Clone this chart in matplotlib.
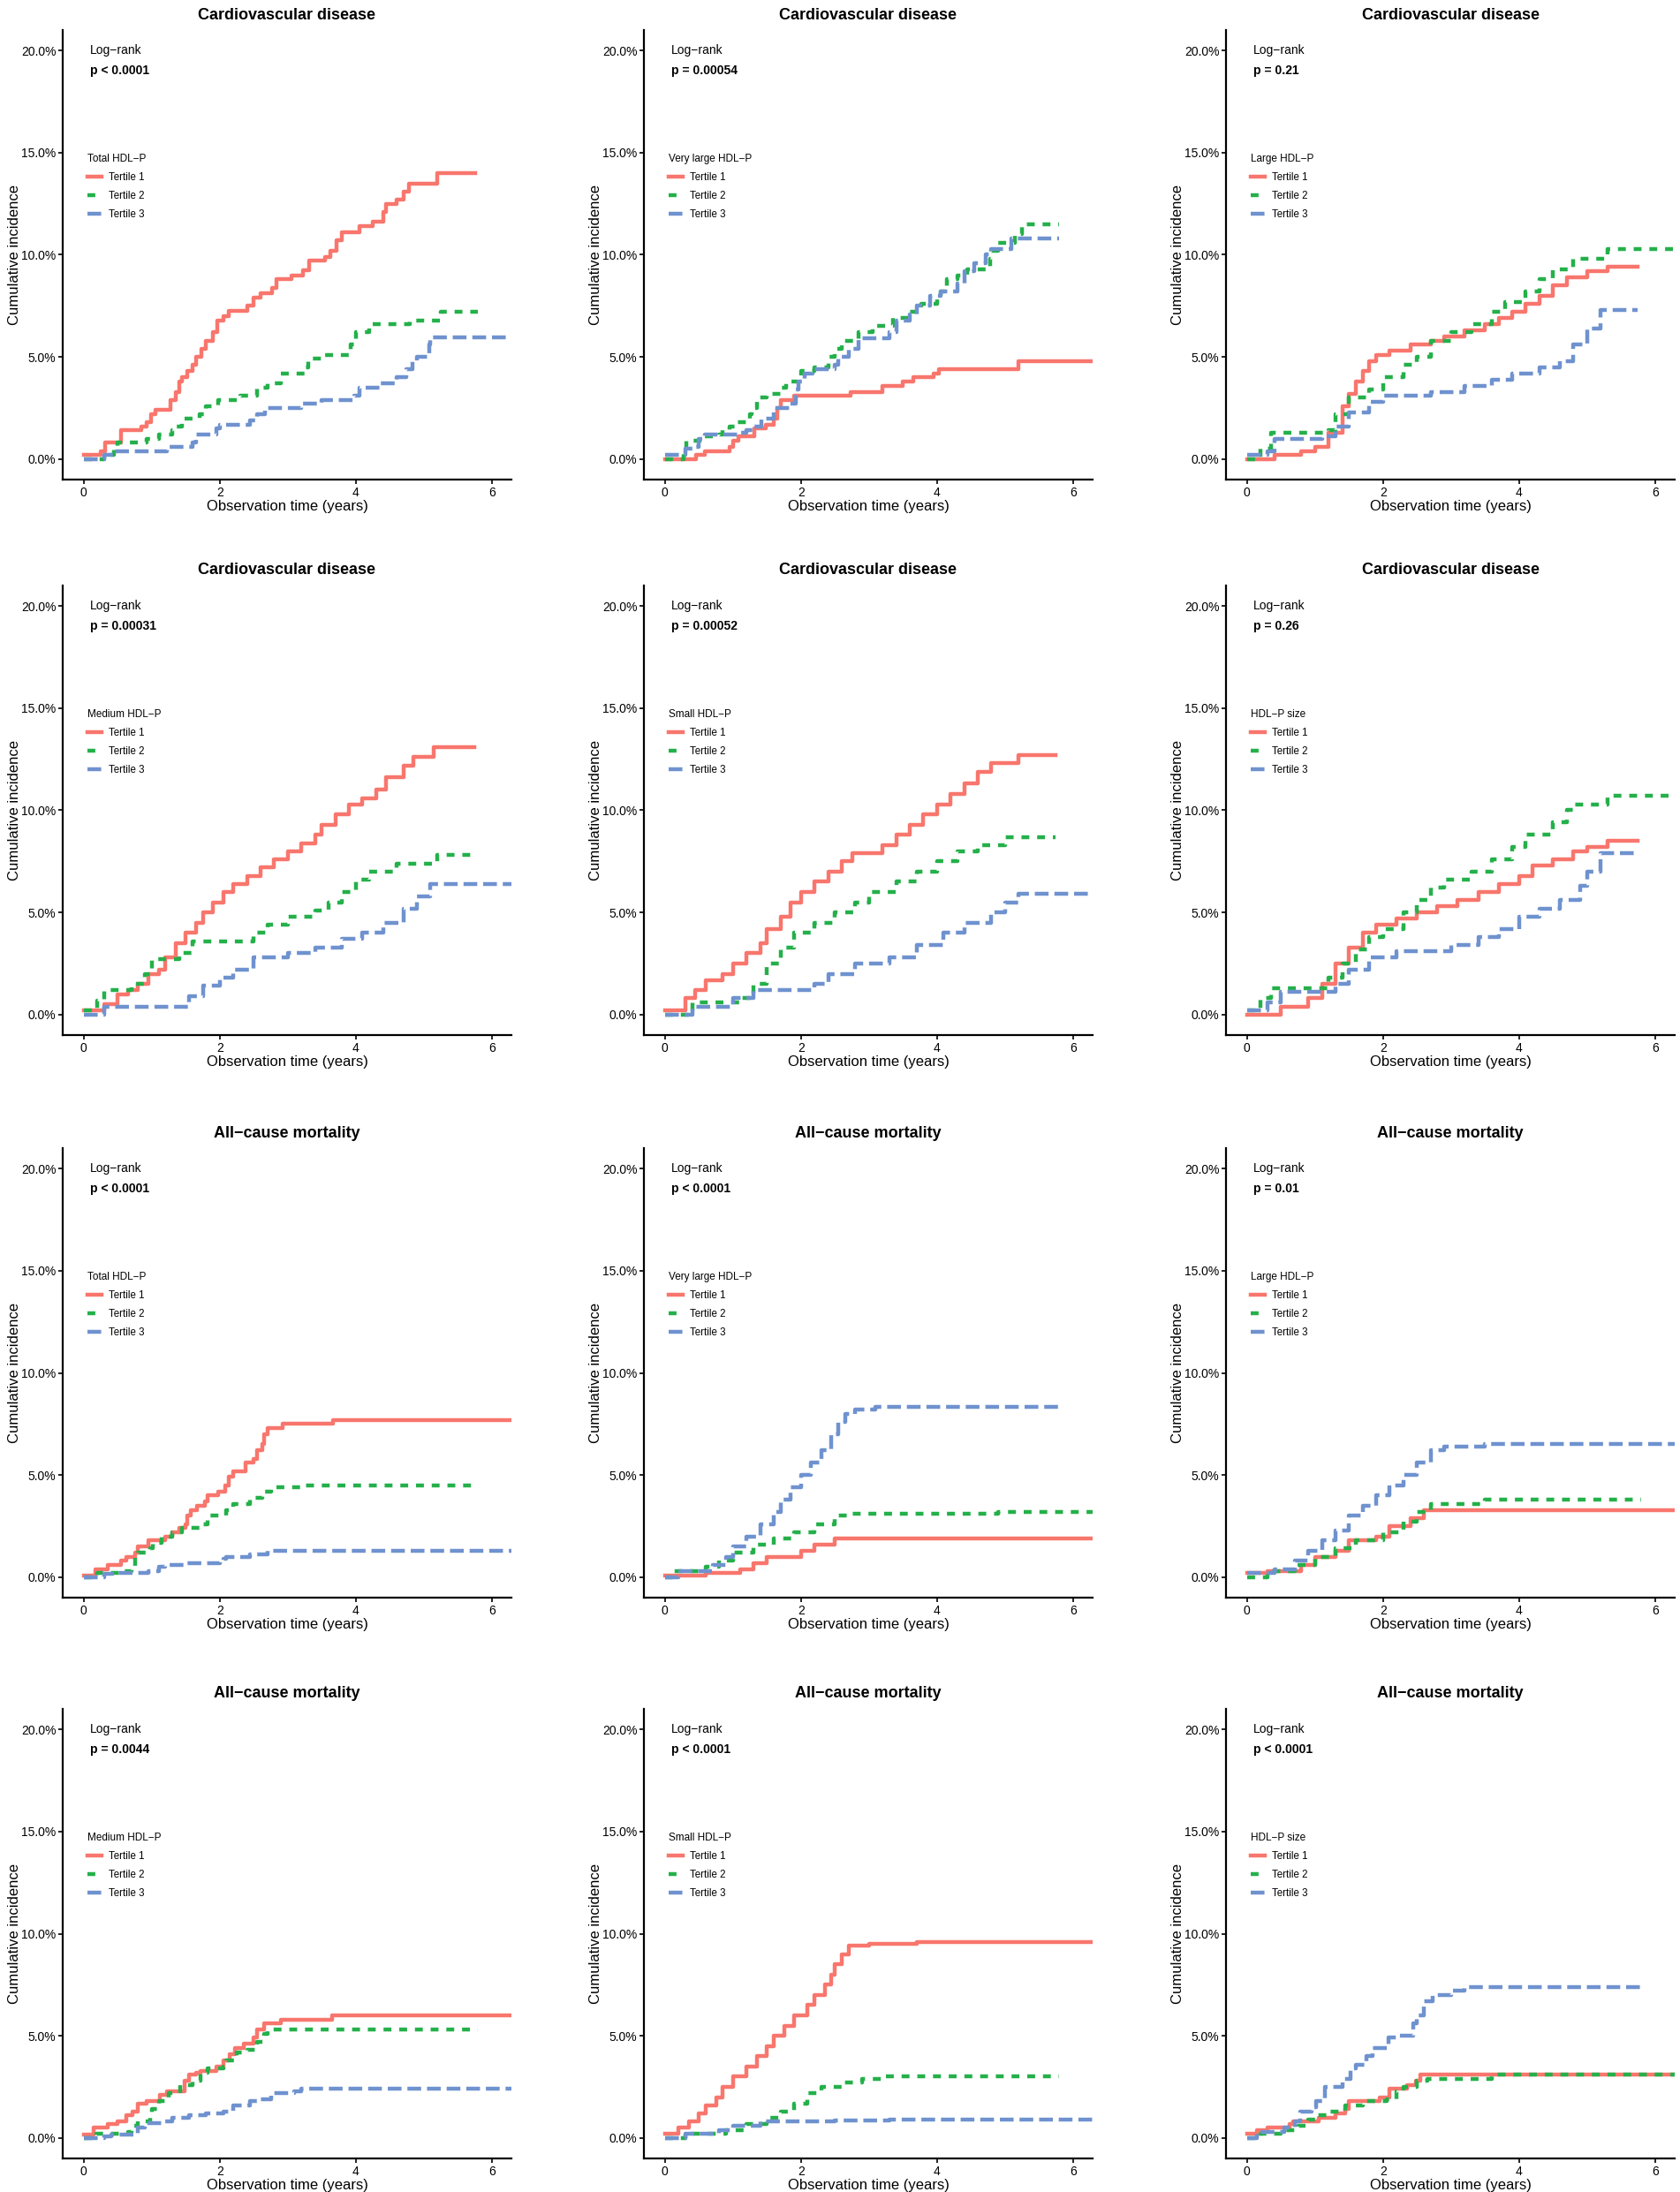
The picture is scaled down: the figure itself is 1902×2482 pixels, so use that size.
import matplotlib
matplotlib.use("Agg")
import matplotlib.pyplot as plt

plt.rcParams['font.family'] = ['Liberation Sans', 'DejaVu Sans']

M = "\u2212"  # R draws the hyphen as a minus sign

# ---- cumulative incidence step curves (time in years, incidence in %) ----
# Cardiovascular disease, Total HDL-P
cvd_total_1_x = [0, 0.25, 0.31, 0.55, 0.84, 0.92, 0.99, 1.05, 1.28, 1.35, 1.40, 1.45, 1.52, 1.60, 1.65, 1.73, 1.80, 1.90, 1.97, 2.05, 2.13, 2.40, 2.50, 2.60, 2.77, 2.83, 3.05, 3.23, 3.32, 3.55, 3.63, 3.72, 3.80, 4.05, 4.25, 4.40, 4.45, 4.60, 4.70, 4.78, 5.20, 5.76]
cvd_total_1_y = [0.2, 0.4, 0.8, 1.4, 1.6, 1.8, 2.2, 2.4, 2.9, 3.3, 3.8, 4.0, 4.3, 4.6, 5.0, 5.4, 5.8, 6.2, 6.8, 7.0, 7.25, 7.5, 7.9, 8.1, 8.4, 8.8, 9.0, 9.25, 9.7, 9.9, 10.2, 10.7, 11.1, 11.4, 11.6, 12.1, 12.5, 12.7, 13.1, 13.5, 14.0, 14.0]
cvd_total_2_x = [0, 0.30, 0.45, 0.50, 0.92, 1.10, 1.30, 1.32, 1.45, 1.70, 1.80, 1.98, 2.30, 2.55, 2.70, 2.90, 3.25, 3.30, 3.50, 3.93, 4.00, 4.20, 4.80, 5.25, 5.80]
cvd_total_2_y = [0, 0.2, 0.5, 0.8, 1.0, 1.2, 1.4, 1.6, 2.0, 2.2, 2.6, 2.9, 3.1, 3.5, 3.7, 4.2, 4.5, 4.9, 5.1, 5.6, 6.2, 6.6, 6.8, 7.2, 7.2]
cvd_total_3_x = [0, 0.30, 0.45, 1.22, 1.60, 1.65, 1.95, 2.00, 2.45, 2.55, 2.67, 3.20, 3.50, 3.98, 4.05, 4.35, 4.60, 4.75, 4.83, 4.90, 5.08, 5.10, 6.50]
cvd_total_3_y = [0, 0.2, 0.4, 0.6, 0.8, 1.2, 1.5, 1.7, 1.9, 2.2, 2.5, 2.7, 2.9, 3.1, 3.5, 3.7, 4.0, 4.4, 4.8, 5.0, 5.6, 5.95, 5.95]

# Cardiovascular disease, Very large HDL-P
cvd_vlarge_1_x = [0, 0.46, 0.58, 0.95, 1.00, 1.08, 1.32, 1.48, 1.60, 1.65, 1.70, 1.90, 2.73, 3.20, 3.50, 3.65, 3.95, 4.03, 5.20, 6.50]
cvd_vlarge_1_y = [0, 0.2, 0.4, 0.6, 0.9, 1.1, 1.5, 1.7, 2.0, 2.5, 2.9, 3.1, 3.3, 3.6, 3.8, 4.0, 4.2, 4.4, 4.8, 4.8]
cvd_vlarge_2_x = [0, 0.27, 0.32, 0.55, 0.80, 0.85, 0.95, 1.05, 1.25, 1.28, 1.35, 1.50, 1.70, 1.78, 1.95, 2.00, 2.20, 2.40, 2.50, 2.60, 2.85, 3.05, 3.35, 3.60, 3.77, 4.00, 4.05, 4.15, 4.30, 4.45, 4.78, 4.80, 4.90, 5.15, 5.25, 5.80]
cvd_vlarge_2_y = [0, 0.5, 0.9, 1.1, 1.2, 1.4, 1.6, 1.8, 2.2, 2.5, 3.0, 3.2, 3.5, 3.8, 3.9, 4.3, 4.5, 5.0, 5.4, 5.8, 6.2, 6.5, 6.9, 7.2, 7.6, 7.8, 8.2, 8.8, 9.0, 9.3, 9.8, 10.2, 10.6, 11.0, 11.5, 11.5]
cvd_vlarge_3_x = [0, 0.30, 0.40, 0.50, 0.58, 1.07, 1.20, 1.30, 1.42, 1.60, 1.85, 1.92, 1.97, 2.05, 2.17, 2.50, 2.55, 2.70, 2.85, 3.30, 3.40, 3.60, 3.70, 3.90, 4.05, 4.30, 4.40, 4.55, 4.72, 4.80, 5.10, 5.80]
cvd_vlarge_3_y = [0.2, 0.5, 0.6, 1.0, 1.2, 1.3, 1.4, 1.6, 2.0, 2.5, 2.7, 3.4, 3.8, 4.2, 4.4, 4.6, 5.0, 5.4, 5.9, 6.2, 6.8, 7.1, 7.5, 8.0, 8.2, 8.6, 9.2, 9.6, 10.0, 10.3, 10.8, 10.8]

# Cardiovascular disease, Large HDL-P
cvd_large_1_x = [0, 0.40, 0.80, 1.00, 1.20, 1.40, 1.50, 1.60, 1.70, 1.80, 1.90, 2.10, 2.40, 2.70, 2.90, 3.20, 3.50, 3.70, 3.90, 4.10, 4.30, 4.50, 4.70, 5.00, 5.30, 5.75]
cvd_large_1_y = [0, 0.2, 0.4, 0.6, 1.3, 2.6, 3.2, 3.8, 4.3, 4.8, 5.1, 5.3, 5.6, 5.8, 6.0, 6.3, 6.6, 6.9, 7.2, 7.6, 8.0, 8.5, 8.9, 9.2, 9.4, 9.4]
cvd_large_2_x = [0, 0.20, 0.35, 1.20, 1.30, 1.50, 1.80, 2.00, 2.30, 2.50, 2.70, 3.00, 3.30, 3.60, 3.80, 4.10, 4.30, 4.50, 4.80, 5.30, 6.50]
cvd_large_2_y = [0, 0.5, 1.3, 1.4, 2.2, 3.0, 3.4, 4.0, 4.6, 5.0, 5.8, 6.2, 6.6, 7.2, 7.7, 8.2, 8.8, 9.3, 9.8, 10.3, 10.3]
cvd_large_3_x = [0, 0.30, 0.40, 1.10, 1.30, 1.50, 1.80, 2.00, 2.70, 3.20, 3.60, 3.90, 4.30, 4.60, 4.80, 5.00, 5.20, 5.75]
cvd_large_3_y = [0.2, 0.4, 1.0, 1.1, 1.6, 2.3, 2.8, 3.1, 3.3, 3.6, 3.9, 4.2, 4.5, 4.8, 5.6, 6.4, 7.3, 7.3]

# Cardiovascular disease, Medium HDL-P
cvd_medium_1_x = [0, 0.30, 0.50, 0.65, 0.80, 0.95, 1.10, 1.20, 1.35, 1.50, 1.65, 1.75, 1.90, 2.05, 2.20, 2.40, 2.60, 2.80, 3.00, 3.20, 3.40, 3.50, 3.70, 3.90, 4.10, 4.30, 4.45, 4.70, 4.85, 5.15, 5.75]
cvd_medium_1_y = [0.2, 0.5, 1.0, 1.2, 1.5, 2.0, 2.2, 2.8, 3.5, 4.0, 4.5, 5.0, 5.5, 6.0, 6.4, 6.8, 7.2, 7.6, 8.0, 8.4, 8.8, 9.3, 9.8, 10.3, 10.6, 11.0, 11.6, 12.2, 12.6, 13.1, 13.1]
cvd_medium_2_x = [0, 0.20, 0.30, 0.70, 0.90, 1.00, 1.40, 1.60, 2.50, 2.70, 3.00, 3.40, 3.60, 3.80, 4.00, 4.20, 4.60, 5.20, 5.75]
cvd_medium_2_y = [0.2, 0.7, 1.2, 1.5, 2.0, 2.7, 3.0, 3.6, 4.0, 4.4, 4.8, 5.1, 5.5, 6.0, 6.6, 7.0, 7.4, 7.8, 7.8]
cvd_medium_3_x = [0, 0.30, 1.55, 1.75, 2.00, 2.20, 2.50, 3.00, 3.40, 3.80, 4.10, 4.40, 4.70, 4.90, 5.10, 6.50]
cvd_medium_3_y = [0, 0.4, 0.9, 1.4, 1.8, 2.2, 2.8, 3.0, 3.3, 3.7, 4.0, 4.5, 5.2, 5.8, 6.4, 6.4]

# Cardiovascular disease, Small HDL-P
cvd_small_1_x = [0, 0.30, 0.45, 0.60, 0.85, 1.00, 1.20, 1.40, 1.50, 1.70, 1.85, 2.00, 2.20, 2.40, 2.60, 2.75, 3.20, 3.40, 3.60, 3.80, 4.00, 4.20, 4.40, 4.60, 4.80, 5.20, 5.75]
cvd_small_1_y = [0.2, 0.8, 1.2, 1.7, 2.0, 2.5, 3.0, 3.5, 4.2, 4.8, 5.5, 6.0, 6.5, 7.0, 7.5, 7.9, 8.3, 8.8, 9.3, 9.8, 10.3, 10.8, 11.3, 11.9, 12.3, 12.7, 12.7]
cvd_small_2_x = [0, 0.40, 1.10, 1.30, 1.50, 1.70, 1.90, 2.20, 2.50, 2.80, 3.00, 3.40, 3.70, 4.00, 4.30, 4.60, 5.00, 5.75]
cvd_small_2_y = [0, 0.6, 0.8, 1.5, 2.5, 3.3, 4.0, 4.5, 5.0, 5.5, 6.0, 6.5, 7.0, 7.5, 8.0, 8.3, 8.7, 8.7]
cvd_small_3_x = [0, 0.40, 1.00, 1.30, 2.20, 2.40, 2.80, 3.30, 3.70, 4.10, 4.40, 4.80, 5.00, 5.20, 6.50]
cvd_small_3_y = [0, 0.4, 0.8, 1.2, 1.5, 2.0, 2.5, 2.8, 3.4, 4.0, 4.5, 5.0, 5.5, 5.9, 5.9]

# Cardiovascular disease, HDL-P size
cvd_size_1_x = [0, 0.50, 0.90, 1.10, 1.30, 1.50, 1.70, 1.90, 2.20, 2.50, 2.80, 3.10, 3.40, 3.70, 4.00, 4.20, 4.50, 4.80, 5.00, 5.30, 5.75]
cvd_size_1_y = [0, 0.4, 0.8, 1.5, 2.5, 3.3, 4.0, 4.4, 4.7, 5.0, 5.3, 5.6, 6.0, 6.4, 6.8, 7.3, 7.6, 8.0, 8.2, 8.5, 8.5]
cvd_size_2_x = [0, 0.20, 0.35, 1.20, 1.40, 1.60, 1.80, 2.00, 2.30, 2.50, 2.70, 2.90, 3.30, 3.60, 3.90, 4.10, 4.50, 4.70, 4.80, 5.30, 6.50]
cvd_size_2_y = [0.2, 0.8, 1.3, 1.8, 2.5, 3.2, 3.8, 4.2, 5.0, 5.6, 6.2, 6.6, 7.0, 7.6, 8.2, 8.8, 9.4, 10.0, 10.3, 10.7, 10.7]
cvd_size_3_x = [0, 0.30, 0.50, 1.30, 1.50, 1.80, 2.20, 3.00, 3.40, 3.70, 4.00, 4.30, 4.60, 4.90, 5.00, 5.20, 5.75]
cvd_size_3_y = [0.2, 0.6, 1.1, 1.5, 2.2, 2.8, 3.1, 3.4, 3.8, 4.2, 4.8, 5.2, 5.6, 6.3, 7.0, 7.9, 7.9]

# All-cause mortality, Total HDL-P
acm_total_1_x = [0, 0.17, 0.35, 0.55, 0.62, 0.75, 0.80, 0.95, 1.20, 1.30, 1.40, 1.50, 1.52, 1.58, 1.67, 1.78, 1.82, 1.98, 2.08, 2.13, 2.20, 2.38, 2.50, 2.55, 2.62, 2.65, 2.70, 2.93, 3.67, 6.50]
acm_total_1_y = [0.1, 0.4, 0.6, 0.8, 1.0, 1.2, 1.5, 1.8, 2.0, 2.2, 2.4, 2.6, 3.0, 3.3, 3.5, 3.7, 4.0, 4.2, 4.5, 4.9, 5.2, 5.6, 5.8, 6.2, 6.5, 7.0, 7.3, 7.5, 7.7, 7.7]
acm_total_2_x = [0, 0.20, 0.55, 0.70, 0.75, 0.80, 0.98, 1.02, 1.15, 1.30, 1.45, 1.70, 1.82, 2.10, 2.20, 2.45, 2.62, 2.75, 3.25, 5.80]
acm_total_2_y = [0, 0.2, 0.3, 0.5, 1.0, 1.2, 1.4, 1.7, 2.0, 2.2, 2.4, 2.6, 3.0, 3.3, 3.6, 3.9, 4.2, 4.4, 4.5, 4.5]
acm_total_3_x = [0, 0.30, 0.45, 0.95, 1.10, 1.20, 1.50, 2.00, 2.05, 2.10, 2.45, 2.70, 6.50]
acm_total_3_y = [0, 0.15, 0.2, 0.3, 0.5, 0.6, 0.7, 0.8, 0.9, 1.0, 1.1, 1.3, 1.3]

# All-cause mortality, Very large HDL-P
acm_vlarge_1_x = [0, 0.60, 1.10, 1.30, 1.50, 2.00, 2.20, 2.50, 6.50]
acm_vlarge_1_y = [0.1, 0.2, 0.4, 0.7, 1.0, 1.3, 1.6, 1.9, 1.9]
acm_vlarge_2_x = [0, 0.10, 0.60, 0.80, 1.00, 1.30, 1.60, 1.90, 2.20, 2.50, 2.70, 4.90, 6.50]
acm_vlarge_2_y = [0, 0.3, 0.5, 0.8, 1.2, 1.6, 1.9, 2.2, 2.6, 3.0, 3.1, 3.2, 3.2]
acm_vlarge_3_x = [0, 0.20, 0.70, 0.90, 1.00, 1.20, 1.40, 1.60, 1.70, 1.85, 2.00, 2.15, 2.30, 2.45, 2.55, 2.65, 2.80, 3.10, 5.80]
acm_vlarge_3_y = [0, 0.3, 0.6, 1.0, 1.5, 2.0, 2.6, 3.2, 3.8, 4.4, 5.0, 5.6, 6.2, 7.0, 7.6, 8.0, 8.2, 8.35, 8.35]

# All-cause mortality, Large HDL-P
acm_large_1_x = [0, 0.30, 0.80, 1.00, 1.30, 1.50, 1.90, 2.10, 2.40, 2.60, 6.50]
acm_large_1_y = [0.2, 0.3, 0.6, 1.0, 1.3, 1.8, 2.0, 2.5, 2.9, 3.3, 3.3]
acm_large_2_x = [0, 0.30, 0.70, 1.00, 1.30, 1.60, 2.00, 2.30, 2.50, 2.70, 3.50, 5.80]
acm_large_2_y = [0, 0.3, 0.6, 1.0, 1.4, 1.8, 2.2, 2.7, 3.2, 3.6, 3.8, 3.8]
acm_large_3_x = [0, 0.40, 0.70, 0.90, 1.10, 1.30, 1.50, 1.70, 1.90, 2.10, 2.30, 2.50, 2.70, 2.90, 3.50, 6.50]
acm_large_3_y = [0.2, 0.4, 0.8, 1.3, 1.8, 2.3, 3.0, 3.5, 4.0, 4.5, 5.0, 5.6, 6.2, 6.4, 6.5, 6.5]

# All-cause mortality, Medium HDL-P
acm_medium_1_x = [0, 0.15, 0.35, 0.50, 0.63, 0.72, 0.80, 0.92, 1.12, 1.22, 1.48, 1.55, 1.65, 1.72, 1.95, 2.05, 2.15, 2.22, 2.35, 2.50, 2.55, 2.65, 2.90, 3.65, 6.50]
acm_medium_1_y = [0.15, 0.5, 0.7, 0.8, 1.1, 1.3, 1.7, 1.8, 2.1, 2.3, 2.8, 3.1, 3.2, 3.3, 3.5, 3.8, 4.1, 4.4, 4.6, 4.9, 5.3, 5.6, 5.8, 6.0, 6.0]
acm_medium_2_x = [0, 0.18, 0.65, 0.70, 0.80, 0.98, 1.00, 1.10, 1.25, 1.42, 1.60, 1.72, 1.82, 2.05, 2.10, 2.25, 2.40, 2.55, 2.65, 2.70, 5.80]
acm_medium_2_y = [0, 0.2, 0.3, 0.6, 0.8, 1.0, 1.4, 1.8, 2.2, 2.6, 2.8, 3.2, 3.4, 3.5, 3.8, 4.2, 4.3, 4.7, 5.1, 5.3, 5.3]
acm_medium_3_x = [0, 0.30, 0.40, 0.80, 0.90, 1.20, 1.30, 1.55, 1.80, 2.05, 2.20, 2.45, 2.60, 2.75, 3.10, 3.20, 6.50]
acm_medium_3_y = [0, 0.1, 0.15, 0.5, 0.75, 0.8, 1.0, 1.1, 1.2, 1.3, 1.6, 1.8, 1.9, 2.2, 2.3, 2.4, 2.4]

# All-cause mortality, Small HDL-P
acm_small_1_x = [0, 0.20, 0.35, 0.50, 0.60, 0.75, 0.85, 1.00, 1.20, 1.35, 1.50, 1.60, 1.75, 1.90, 2.10, 2.20, 2.35, 2.45, 2.50, 2.60, 2.70, 3.00, 3.70, 6.50]
acm_small_1_y = [0.2, 0.5, 0.8, 1.2, 1.6, 2.0, 2.5, 3.0, 3.5, 4.0, 4.5, 5.0, 5.5, 6.0, 6.5, 7.0, 7.5, 8.0, 8.5, 9.0, 9.4, 9.5, 9.6, 9.6]
acm_small_2_x = [0, 0.30, 0.90, 1.20, 1.50, 1.70, 1.90, 2.10, 2.30, 2.60, 2.90, 3.20, 5.80]
acm_small_2_y = [0, 0.2, 0.4, 0.7, 1.0, 1.3, 1.7, 2.2, 2.5, 2.7, 2.9, 3.0, 3.0]
acm_small_3_x = [0, 0.30, 0.80, 1.00, 1.40, 2.50, 3.30, 6.50]
acm_small_3_y = [0, 0.2, 0.4, 0.6, 0.8, 0.85, 0.9, 0.9]

# All-cause mortality, HDL-P size
acm_size_1_x = [0, 0.15, 0.30, 0.62, 0.68, 1.05, 1.30, 1.45, 1.50, 1.95, 2.10, 2.35, 2.48, 2.55, 6.50]
acm_size_1_y = [0.2, 0.4, 0.5, 0.7, 0.8, 1.0, 1.2, 1.4, 1.8, 2.0, 2.4, 2.6, 2.8, 3.1, 3.1]
acm_size_2_x = [0, 0.20, 0.50, 0.75, 0.90, 1.00, 1.20, 1.45, 1.70, 2.05, 2.20, 2.30, 2.50, 2.65, 3.60, 6.50]
acm_size_2_y = [0, 0.2, 0.4, 0.6, 0.9, 1.1, 1.3, 1.6, 1.8, 1.9, 2.3, 2.5, 2.8, 2.9, 3.1, 3.1]
acm_size_3_x = [0, 0.15, 0.55, 0.70, 0.78, 0.95, 1.02, 1.15, 1.40, 1.52, 1.60, 1.75, 1.85, 2.08, 2.22, 2.45, 2.50, 2.60, 2.73, 3.00, 3.20, 5.80]
acm_size_3_y = [0, 0.3, 0.5, 0.8, 1.3, 1.5, 1.8, 2.5, 2.9, 3.4, 3.6, 4.0, 4.4, 4.9, 5.0, 5.6, 6.0, 6.7, 7.0, 7.2, 7.4, 7.4]

# ---- labels ----
titles = ["Cardiovascular disease"] * 6 + ["All" + M + "cause mortality"] * 6
legend_titles = ["Total HDL" + M + "P", "Very large HDL" + M + "P", "Large HDL" + M + "P",
                 "Medium HDL" + M + "P", "Small HDL" + M + "P", "HDL" + M + "P size"] * 2
p_labels = ["p < 0.0001", "p = 0.00054", "p = 0.21",
            "p = 0.00031", "p = 0.00052", "p = 0.26",
            "p < 0.0001", "p < 0.0001", "p = 0.01",
            "p = 0.0044", "p < 0.0001", "p < 0.0001"]
tertiles = ["Tertile 1", "Tertile 2", "Tertile 3"]
x_ticks = [0, 2, 4, 6]
y_ticks = [0, 5, 10, 15, 20]

curves = [
    [(cvd_total_1_x, cvd_total_1_y), (cvd_total_2_x, cvd_total_2_y), (cvd_total_3_x, cvd_total_3_y)],
    [(cvd_vlarge_1_x, cvd_vlarge_1_y), (cvd_vlarge_2_x, cvd_vlarge_2_y), (cvd_vlarge_3_x, cvd_vlarge_3_y)],
    [(cvd_large_1_x, cvd_large_1_y), (cvd_large_2_x, cvd_large_2_y), (cvd_large_3_x, cvd_large_3_y)],
    [(cvd_medium_1_x, cvd_medium_1_y), (cvd_medium_2_x, cvd_medium_2_y), (cvd_medium_3_x, cvd_medium_3_y)],
    [(cvd_small_1_x, cvd_small_1_y), (cvd_small_2_x, cvd_small_2_y), (cvd_small_3_x, cvd_small_3_y)],
    [(cvd_size_1_x, cvd_size_1_y), (cvd_size_2_x, cvd_size_2_y), (cvd_size_3_x, cvd_size_3_y)],
    [(acm_total_1_x, acm_total_1_y), (acm_total_2_x, acm_total_2_y), (acm_total_3_x, acm_total_3_y)],
    [(acm_vlarge_1_x, acm_vlarge_1_y), (acm_vlarge_2_x, acm_vlarge_2_y), (acm_vlarge_3_x, acm_vlarge_3_y)],
    [(acm_large_1_x, acm_large_1_y), (acm_large_2_x, acm_large_2_y), (acm_large_3_x, acm_large_3_y)],
    [(acm_medium_1_x, acm_medium_1_y), (acm_medium_2_x, acm_medium_2_y), (acm_medium_3_x, acm_medium_3_y)],
    [(acm_small_1_x, acm_small_1_y), (acm_small_2_x, acm_small_2_y), (acm_small_3_x, acm_small_3_y)],
    [(acm_size_1_x, acm_size_1_y), (acm_size_2_x, acm_size_2_y), (acm_size_3_x, acm_size_3_y)],
]

colors = ['#F8766D', '#24B04A', '#6F92CF']
styles = ['-', (0, (2.0, 2.0)), (0, (3.5, 1.5))]

W, H = 1902, 2482
fig = plt.figure(figsize=(W / 100, H / 100), dpi=100)

col_left = [71, 729, 1388]
row_top = [34, 663, 1300, 1935]
ax_w, ax_h = 508, 509

for i in range(12):
    r, c = divmod(i, 3)
    ax = fig.add_axes([col_left[c] / W, (H - row_top[r] - ax_h) / H, ax_w / W, ax_h / H])

    for k, (tx, ty) in enumerate(curves[i]):
        ax.step(tx, ty, where='post', color=colors[k], linestyle=styles[k],
                linewidth=3.2, label=tertiles[k])

    ax.set_xlim(-0.31, 6.29)
    ax.set_ylim(-1, 21)
    ax.set_xticks(x_ticks)
    ax.set_yticks(y_ticks)
    ax.set_yticklabels([f"{v:.1f}%" for v in y_ticks])
    ax.tick_params(labelsize=10, length=3.5, width=1.2, pad=2, colors='black')
    for s in ['top', 'right']:
        ax.spines[s].set_visible(False)
    for s in ['left', 'bottom']:
        ax.spines[s].set_linewidth(1.6)

    ax.set_title(titles[i], fontsize=13, fontweight='bold', pad=9)
    ax.set_xlabel("Observation time (years)", fontsize=12)
    ax.set_ylabel("Cumulative incidence", fontsize=12)
    ax.xaxis.set_label_coords(0.5, -0.059)
    ax.xaxis.label.set_va('center')
    ax.yaxis.set_label_coords(-0.108, 0.5)
    ax.yaxis.label.set_va('center')

    ax.text(0.09, 20, "Log" + M + "rank", fontsize=10, va='center', ha='left')
    ax.text(0.09, 19.0, p_labels[i], fontsize=10, fontweight='bold', va='center', ha='left')

    leg = ax.legend(title=legend_titles[i], loc='upper left', bbox_to_anchor=(0.055, 0.725),
                    frameon=False, fontsize=8.3, title_fontsize=8.5, handlelength=1.4,
                    handletextpad=0.7, labelspacing=0.78, borderpad=0, borderaxespad=0,
                    alignment='left')

fig.savefig("out.png", dpi=100)
